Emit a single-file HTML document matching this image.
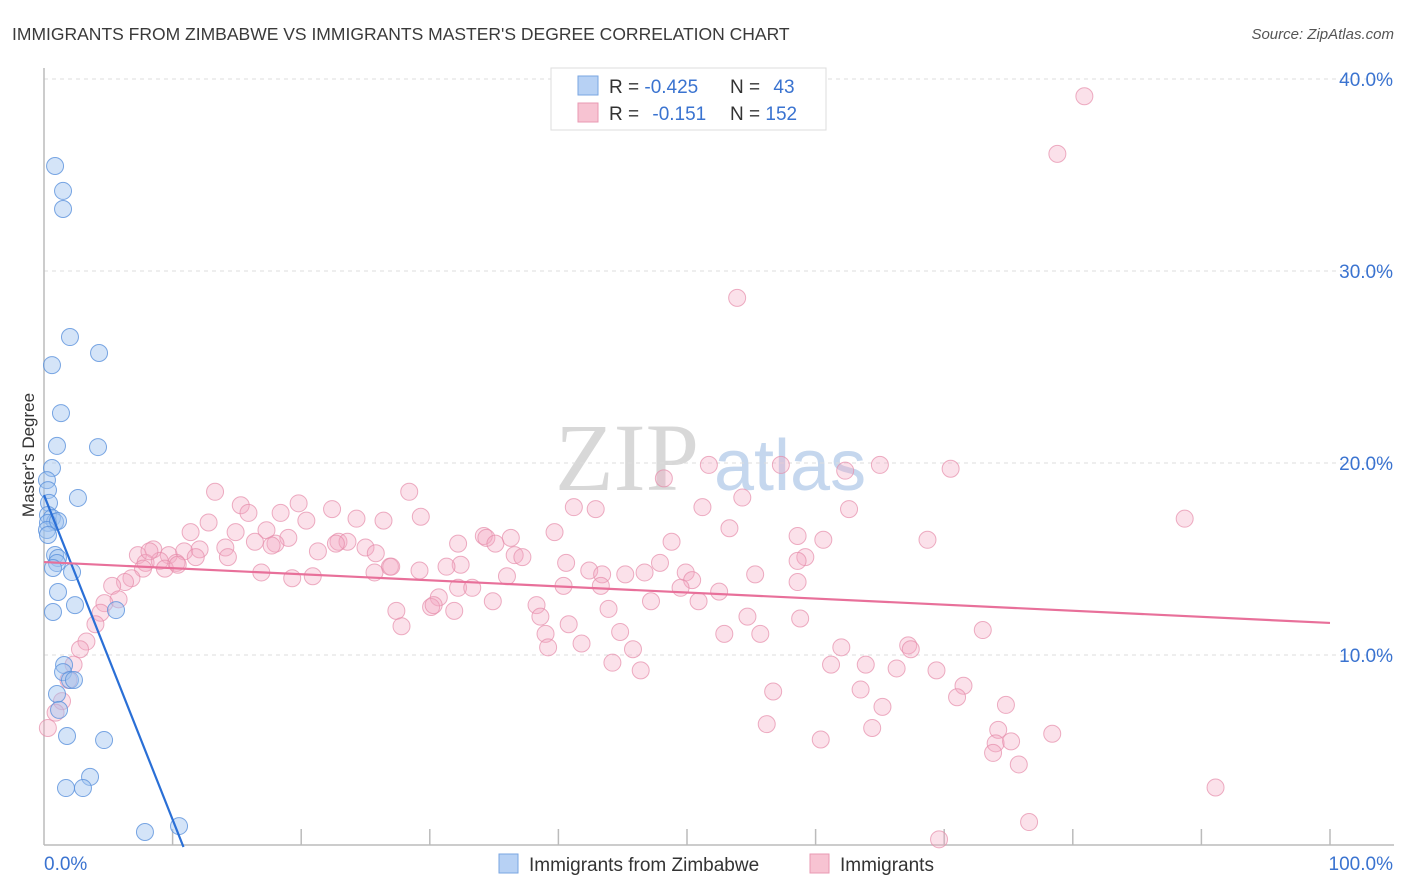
<!DOCTYPE html>
<html><head><meta charset="utf-8"><style>
body{margin:0;background:#fff;font-family:"Liberation Sans",sans-serif;}
svg{display:block}
</style></head><body>
<svg id="chart" width="1406" height="892">
<text x="12" y="40" font-size="17.5" fill="#3a3a3a">IMMIGRANTS FROM ZIMBABWE VS IMMIGRANTS MASTER'S DEGREE CORRELATION CHART</text>
<text x="1394" y="39" font-size="15" font-style="italic" fill="#555" text-anchor="end">Source: ZipAtlas.com</text>
<g>
<text x="555" y="490" font-family="Liberation Serif" font-size="96" fill="#d8d8d8">ZIP</text>
<text x="714" y="490" font-size="72" fill="#c5d7ee">atlas</text>
</g>
<g id="grid"></g>
<g id="axes"></g>
<g id="pinkPts"></g>
<g id="bluePts"></g>
<g id="lines"></g>
<text transform="translate(34,455) rotate(-90)" font-size="17" fill="#333" text-anchor="middle">Master's Degree</text>
<g>
<rect x="551" y="68" width="275" height="62" fill="#fff" stroke="#ddd"/>
<rect x="578" y="76" width="20" height="19" fill="#b7d1f4" stroke="#7aa6e2"/>
<rect x="578" y="103" width="20" height="19" fill="#f7c3d2" stroke="#e99ab3"/>
<text x="609" y="93" font-size="19" fill="#333">R = <tspan fill="#3a73d0">-0.425</tspan></text>
<text x="730" y="93" font-size="19" fill="#333">N = <tspan fill="#3a73d0" dx="8">43</tspan></text>
<text x="609" y="120" font-size="19" fill="#333">R = <tspan fill="#3a73d0" dx="8">-0.151</tspan></text>
<text x="730" y="120" font-size="19" fill="#333">N = <tspan fill="#3a73d0">152</tspan></text>
</g>
<g>
<rect x="499" y="854" width="19" height="19" fill="#b7d1f4" stroke="#7aa6e2"/>
<text x="529" y="871" font-size="19" fill="#333">Immigrants from Zimbabwe</text>
<rect x="810" y="854" width="19" height="19" fill="#f7c3d2" stroke="#e99ab3"/>
<text x="840" y="871" font-size="19" fill="#333">Immigrants</text>
</g>
</svg>
<script>
const yTicks=[10,20,30,40];
const xTickCount=[0,10,20,30,40,50,60,70,80,90,100];
const blueX=[0.86,1.48,1.48,2.02,4.28,0.62,1.32,1.01,4.20,0.62,0.23,0.31,2.64,0.39,0.31,0.62,0.86,0.31,0.23,0.86,1.09,1.01,2.18,0.70,1.09,2.41,0.70,5.60,1.56,1.48,2.02,2.33,1.01,1.17,1.79,4.67,3.58,1.71,3.03,7.85,10.50,0.31,1.09];
const blueY=[35.47,34.17,33.23,26.56,25.73,25.10,22.60,20.89,20.83,19.74,19.11,18.59,18.18,17.92,17.29,17.14,16.93,16.88,16.51,15.21,15.05,14.79,14.32,14.53,13.28,12.60,12.24,12.34,9.48,9.11,8.70,8.70,7.97,7.14,5.78,5.57,3.65,3.07,3.07,0.78,1.09,16.25,16.98];
const pinkX=[80.9,78.8,53.9,51.7,57.3,65.0,70.5,62.3,48.2,54.3,28.4,13.3,19.8,15.3,41.2,42.9,88.7,51.2,62.6,15.9,18.4,22.4,29.3,24.3,26.4,12.8,53.3,11.4,14.9,17.3,20.4,39.7,34.2,36.3,58.6,34.4,68.7,60.6,19.0,16.4,22.9,23.6,7.3,8.5,9.7,10.9,14.1,18.0,22.7,25.0,12.1,17.7,32.2,48.8,35.1,36.6,37.2,59.2,58.6,7.9,9.0,10.3,14.3,11.8,7.7,9.4,10.4,21.3,25.8,26.9,32.4,40.6,27.0,47.9,31.3,49.9,6.8,6.3,16.9,19.3,20.9,25.7,29.2,42.4,43.4,45.2,46.7,55.3,58.6,36.0,50.4,5.3,40.4,43.3,49.5,52.5,32.2,33.3,5.8,4.7,4.4,34.9,38.3,30.7,30.1,31.9,50.9,27.4,47.2,43.9,54.7,30.3,38.6,58.8,40.8,27.8,4.0,44.8,52.9,55.7,73.0,3.3,39.0,39.2,41.8,45.8,62.0,2.8,67.2,67.4,44.2,46.4,61.2,63.9,66.3,69.4,2.3,1.9,71.5,71.0,63.5,56.7,1.4,0.9,0.3,65.2,74.8,56.2,60.4,74.2,78.4,74.0,75.2,73.8,75.8,64.4,91.1,76.6,69.6,8.2];
const pinkY=[39.1,36.1,28.6,19.9,19.9,19.9,19.7,19.6,19.2,18.2,18.5,18.5,17.9,17.8,17.7,17.6,17.1,17.7,17.6,17.4,17.4,17.6,17.2,17.1,17.0,16.9,16.6,16.4,16.4,16.5,17.0,16.4,16.2,16.1,16.2,16.1,16.0,16.0,16.1,15.9,15.9,15.9,15.2,15.5,15.2,15.4,15.6,15.8,15.8,15.6,15.5,15.7,15.8,15.9,15.8,15.2,15.1,15.1,14.9,14.8,14.9,14.8,15.1,15.1,14.5,14.5,14.7,15.4,15.3,14.6,14.7,14.8,14.6,14.8,14.6,14.3,14.0,13.8,14.3,14.0,14.1,14.3,14.4,14.4,14.2,14.2,14.3,14.2,13.8,14.1,13.9,13.6,13.6,13.6,13.5,13.3,13.5,13.5,12.9,12.7,12.2,12.8,12.6,13.0,12.5,12.3,12.8,12.3,12.8,12.4,12.0,12.6,12.0,11.9,11.6,11.5,11.6,11.2,11.1,11.1,11.3,10.7,11.1,10.4,10.6,10.3,10.4,10.3,10.5,10.3,9.6,9.2,9.5,9.5,9.3,9.2,9.5,8.7,8.4,7.8,8.2,8.1,7.6,7.0,6.2,7.3,7.4,6.4,5.6,6.1,5.9,5.4,5.5,4.9,4.3,6.2,3.1,1.3,0.4,15.4];
const blueTrend=[18.33,-1.69];   // intercept, slope per %
const pinkTrend=[14.84,11.67];   // y at 0%, y at 100%

const X0=44,X1=1330,Y0=847,PXY=19.2;
const sx=v=>X0+(X1-X0)*v/100;
const sy=v=>Y0-v*PXY;
const NS='http://www.w3.org/2000/svg';
function mk(tag,attrs,parent){const e=document.createElementNS(NS,tag);for(const k in attrs)e.setAttribute(k,attrs[k]);parent.appendChild(e);return e;}
const grid=document.getElementById('grid'),axes=document.getElementById('axes');
yTicks.forEach(t=>{
  const l=mk('line',{x1:X0,x2:1394,y1:sy(t),y2:sy(t),stroke:'#ddd','stroke-dasharray':'4,4'},grid);
  
  
  const tx=mk('text',{x:1393,y:sy(t)+7,'font-size':19,fill:'#3a73d0','text-anchor':'end'},grid);
  tx.textContent=t.toFixed(1)+'%';
  
  
});
mk('line',{x1:X0,x2:X0,y1:68,y2:845,stroke:'#bbb','stroke-width':1.5},axes);
mk('line',{x1:X0,x2:1394,y1:845,y2:845,stroke:'#bbb','stroke-width':1.5},axes);
xTickCount.forEach(t=>{if(t>0){const l=mk('line',{x1:sx(t),x2:sx(t),y1:829,y2:845,stroke:'#bbb','stroke-width':1.5},axes);
  
  }});
const xl=mk('text',{x:44,y:870,'font-size':19,fill:'#3a73d0'},axes);xl.textContent='0.0%';


const xr=mk('text',{x:1393,y:870,'font-size':19,fill:'#3a73d0','text-anchor':'end'},axes);xr.textContent='100.0%';



const pg=document.getElementById('pinkPts');
pinkX.forEach((v,i)=>{const c=mk('circle',{cx:sx(v),cy:sy(pinkY[i]),r:8.5,fill:'rgba(244,170,195,0.35)',stroke:'rgba(230,140,170,0.7)','stroke-width':1},pg);
  
  });
const bg=document.getElementById('bluePts');
blueX.forEach((v,i)=>{const c=mk('circle',{cx:sx(v),cy:sy(blueY[i]),r:8.5,fill:'rgba(160,195,240,0.45)',stroke:'rgba(90,145,220,0.8)','stroke-width':1},bg);
  
  });
const lg=document.getElementById('lines');
const bEnd=-blueTrend[0]/blueTrend[1];
const bl=mk('line',{x1:sx(0),y1:sy(blueTrend[0]),x2:sx(bEnd),y2:sy(0),stroke:'#2a6fd6','stroke-width':2.2},lg);


const pl=mk('line',{x1:sx(0),y1:sy(pinkTrend[0]),x2:sx(100),y2:sy(pinkTrend[1]),stroke:'#e8709a','stroke-width':2.2},lg);


</script>
</body></html>
